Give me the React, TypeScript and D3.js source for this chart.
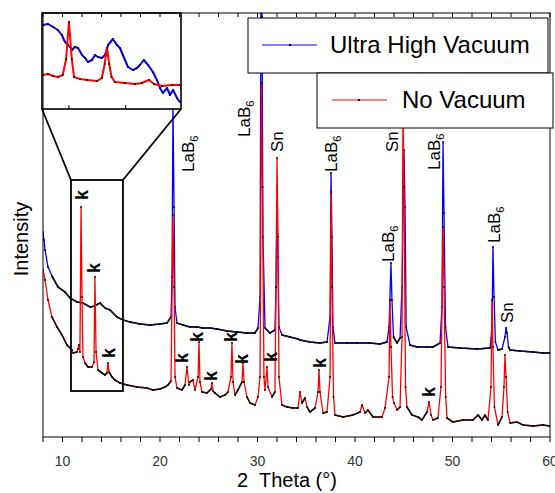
import React from "react";
import * as d3 from "d3";

// XRD patterns, 2θ (deg) vs intensity (a.u.)
const uhvPattern: [number, number][] = [
  [8.0, 205], [8.1, 197], [8.21, 187], [8.51, 170], [8.92, 161], [9.03, 159], [9.54, 150], [10.26, 145],
  [10.77, 139], [11.49, 135], [12.1, 134], [12.82, 130], [13.33, 131], [13.64, 133], [13.85, 134], [14.36, 129],
  [14.87, 127], [15.59, 120], [16.21, 117], [16.92, 115], [17.95, 113], [18.97, 112], [20.0, 113], [20.72, 114],
  [21.13, 120], [21.23, 160], [21.33, 332], [21.44, 230], [21.54, 130], [21.74, 114], [22.36, 112], [23.08, 110],
  [23.79, 110], [24.41, 109], [25.13, 109], [25.85, 108], [26.87, 106], [27.9, 105], [28.92, 104], [29.74, 104],
  [30.05, 109], [30.26, 140], [30.36, 470], [30.46, 420], [30.56, 200], [30.77, 109], [31.28, 104], [31.79, 107],
  [31.9, 150], [32.0, 230], [32.1, 180], [32.2, 110], [32.51, 102], [33.33, 100], [34.15, 98], [34.36, 97],
  [35.38, 95], [36.41, 94], [37.13, 95], [37.44, 120], [37.54, 264], [37.64, 200], [37.74, 110], [37.95, 94],
  [39.18, 94], [40.21, 94], [41.54, 94], [42.56, 93], [43.28, 95], [43.49, 110], [43.69, 174], [43.79, 137],
  [43.95, 100], [44.31, 94], [44.62, 99], [44.82, 150], [45.03, 287], [45.13, 230], [45.25, 110], [45.64, 92],
  [46.36, 90], [47.38, 90], [48.0, 90], [48.72, 94], [48.92, 130], [49.03, 295], [49.13, 224], [49.28, 110],
  [49.54, 90], [50.77, 89], [52.51, 88], [53.85, 89], [54.05, 110], [54.15, 190], [54.26, 140], [54.4, 95],
  [54.67, 87], [55.08, 88], [55.38, 100], [55.49, 109], [55.59, 104], [55.75, 90], [55.9, 87], [56.92, 86],
  [58.26, 85], [59.28, 84], [60.0, 84],
];

const noVacPattern: [number, number][] = [
  [8.0, 167], [8.21, 157], [8.51, 137], [8.92, 120], [9.44, 110], [9.95, 102], [10.46, 92], [10.97, 87],
  [11.08, 84], [11.49, 85], [11.59, 88], [11.69, 92], [11.79, 85], [11.9, 230], [12.0, 140], [12.1, 80],
  [12.31, 74], [12.62, 70], [13.03, 70], [13.23, 75], [13.33, 160], [13.44, 85], [13.64, 67], [14.05, 64],
  [14.36, 62], [14.56, 64], [14.67, 74], [14.77, 65], [15.08, 60], [15.38, 57], [15.9, 54], [16.62, 52],
  [17.64, 50], [18.67, 49], [19.28, 47], [20.0, 48], [20.51, 50], [20.82, 52], [21.13, 56], [21.33, 222],
  [21.44, 150], [21.54, 60], [21.74, 49], [22.26, 47], [22.56, 52], [22.77, 70], [22.97, 52], [23.08, 55],
  [23.38, 57], [23.59, 47], [23.9, 60], [24.0, 95], [24.1, 55], [24.31, 45], [24.82, 44], [25.23, 48],
  [25.33, 54], [25.44, 46], [25.64, 44], [26.15, 40], [26.67, 42], [26.97, 45], [27.28, 60], [27.38, 94],
  [27.49, 55], [27.69, 42], [28.0, 47], [28.41, 55], [28.51, 74], [28.62, 55], [28.92, 40], [29.23, 34],
  [29.74, 32], [30.05, 40], [30.26, 60], [30.41, 354], [30.51, 250], [30.66, 60], [30.77, 47], [30.97, 70],
  [31.08, 50], [31.49, 40], [31.79, 45], [31.9, 150], [32.0, 279], [32.1, 200], [32.2, 60], [32.51, 32],
  [33.03, 30], [33.64, 29], [34.15, 29], [34.36, 45], [34.56, 34], [34.87, 39], [35.08, 30], [35.38, 25],
  [35.9, 29], [36.21, 45], [36.31, 67], [36.41, 45], [36.72, 24], [37.13, 25], [37.44, 60], [37.54, 245],
  [37.64, 150], [37.8, 40], [37.95, 22], [38.77, 20], [39.79, 22], [40.52, 25], [40.72, 32], [41.03, 24],
  [41.33, 27], [41.85, 20], [42.77, 20], [43.08, 29], [43.49, 60], [43.59, 137], [43.69, 90], [43.85, 40],
  [44.0, 34], [44.31, 27], [44.62, 30], [44.82, 100], [44.92, 327], [45.03, 250], [45.18, 50], [45.33, 30],
  [45.85, 22], [46.46, 20], [46.87, 17], [47.38, 25], [47.59, 35], [47.8, 22], [48.0, 17], [48.51, 19],
  [48.82, 50], [49.03, 210], [49.13, 150], [49.3, 40], [49.44, 19], [50.05, 15], [51.08, 17], [52.1, 17],
  [52.62, 22], [53.03, 17], [53.33, 22], [53.64, 17], [53.95, 50], [54.05, 137], [54.15, 90], [54.3, 30],
  [54.67, 12], [55.08, 20], [55.28, 50], [55.38, 82], [55.49, 60], [55.65, 25], [55.9, 14], [56.62, 15],
  [57.23, 12], [58.26, 11], [59.28, 12], [60.0, 11],
];

// inset: magnified 11–16° region
const insetUhv: [number, number][] = [
  [11.09, 84], [11.26, 85], [11.44, 82], [11.61, 79], [11.75, 74], [11.86, 67], [11.97, 64], [12.11, 59],
  [12.21, 62], [12.32, 61], [12.46, 54], [12.57, 51], [12.67, 47], [12.81, 49], [12.92, 54], [13.02, 52],
  [13.16, 51], [13.27, 54], [13.38, 64], [13.55, 70], [13.69, 64], [13.8, 61], [13.9, 54], [14.08, 42],
  [14.26, 39], [14.4, 41], [14.5, 44], [14.64, 49], [14.79, 44], [14.96, 37], [15.1, 29], [15.21, 21],
  [15.31, 16], [15.46, 21], [15.56, 14], [15.67, 19], [15.81, 11], [15.91, 7],
];

const insetNoVac: [number, number][] = [
  [11.09, 34], [11.26, 35], [11.44, 33], [11.61, 32], [11.78, 34], [11.9, 50], [12.0, 87], [12.1, 50],
  [12.18, 32], [12.39, 30], [12.64, 29], [12.99, 28], [13.16, 31], [13.26, 45], [13.34, 61], [13.42, 45],
  [13.5, 32], [13.62, 27], [13.97, 26], [14.33, 25], [14.57, 26], [14.82, 29], [15.0, 25], [15.28, 23],
  [15.63, 24], [15.91, 24],
];

const phaseLabels = [
  { name: "LaB", sub: "6", theta: 23.49, counts: 265 },
  { name: "LaB", sub: "6", theta: 29.23, counts: 300 },
  { name: "Sn", sub: "", theta: 32.62, counts: 285 },
  { name: "LaB", sub: "6", theta: 38.15, counts: 265 },
  { name: "LaB", sub: "6", theta: 44.0, counts: 175 },
  { name: "Sn", sub: "", theta: 44.41, counts: 285 },
  { name: "LaB", sub: "6", theta: 48.72, counts: 267 },
  { name: "LaB", sub: "6", theta: 54.87, counts: 194 },
  { name: "Sn", sub: "", theta: 56.2, counts: 114 },
];

const kTheta = [12.62, 13.85, 15.38, 22.87, 24.41, 25.85, 27.9, 29.03, 32.0, 37.03, 48.2];
const kCounts = [242, 169, 84, 79, 100, 61, 100, 78, 80, 74, 45];

const xTickLabels = [10, 20, 30, 40, 50, 60];
const zoomTheta = [10.87, 16.2];
const zoomCounts = [46, 257];

const BLUE = "#0000ff";
const RED = "#ff0000";
const FONT = "'Liberation Sans', Arial, Helvetica, sans-serif";

const x = d3.scaleLinear().domain([8, 60]).range([43, 550]);
const y = d3.scaleLinear().domain([0, 424]).range([437, 13]);

const ix = d3.scaleLinear().domain([11.05, 15.95]).range([42, 181]);
const iy = d3.scaleLinear().domain([0, 96]).range([109, 13]);

// black where the trace is flat (dense symbols in the original), colour on the peaks
function flatPath(data: [number, number][], sx: any, sy: any) {
  let d = "";
  for (let i = 1; i < data.length; i++) {
    const x0 = sx(data[i - 1][0]), y0 = sy(data[i - 1][1]);
    const x1 = sx(data[i][0]), y1 = sy(data[i][1]);
    if (Math.abs(y1 - y0) <= 2.2 * Math.abs(x1 - x0)) d += `M${x0},${y0}L${x1},${y1}`;
  }
  return d;
}

function Trace({ data, color, sx, sy, width, flat }: any) {
  const line = d3.line<[number, number]>().x((d) => sx(d[0])).y((d) => sy(d[1]));
  return (
    <g>
      <path d={line(data) || ""} fill="none" stroke={color} strokeWidth={width} strokeLinejoin="round" />
      {flat && <path d={flatPath(data, sx, sy)} fill="none" stroke="#111" strokeWidth={1.6} />}
      {data.map((d: [number, number], i: number) => (
        <rect key={i} x={sx(d[0]) - 0.8} y={sy(d[1]) - 0.8} width={1.6} height={1.6} fill="#000" />
      ))}
    </g>
  );
}

export default function App() {
  const ticks = d3.range(8, 61, 2);
  return (
    <svg width={555} height={493} style={{ position: "absolute", left: 0, top: 0, background: "#fff" }} fontFamily={FONT}>
      <defs>
        <clipPath id="plot">
          <rect x={43} y={13} width={507} height={424} />
        </clipPath>
      </defs>
      <rect width={555} height={493} fill="#fff" />

      <g clipPath="url(#plot)">
        <Trace data={uhvPattern} color={BLUE} sx={x} sy={y} width={1.3} flat />
        <Trace data={noVacPattern} color={RED} sx={x} sy={y} width={1.3} flat />
      </g>

      {/* phase labels */}
      {phaseLabels.map((l, i) => (
        <text key={i} transform={`translate(${x(l.theta)},${y(l.counts)}) rotate(-90)`} fontSize={17} fill="#000">
          {l.name}
          {l.sub && <tspan fontSize={11} dy={4}>{l.sub}</tspan>}
        </text>
      ))}
      {kTheta.map((t, i) => (
        <text key={i} transform={`translate(${x(t)},${y(kCounts[i])}) rotate(-90)`} fontSize={18}
          fontWeight="bold" textAnchor="middle" fill="#000">k</text>
      ))}

      {/* zoom box and connectors */}
      <rect x={x(zoomTheta[0])} y={y(zoomCounts[1])} width={x(zoomTheta[1]) - x(zoomTheta[0])}
        height={y(zoomCounts[0]) - y(zoomCounts[1])} fill="none" stroke="#000" strokeWidth={1.8} />
      <line x1={x(zoomTheta[0])} y1={y(zoomCounts[1])} x2={ix.range()[0]} y2={iy.range()[0]} stroke="#000" strokeWidth={1.8} />
      <line x1={x(zoomTheta[1])} y1={y(zoomCounts[1])} x2={ix.range()[1]} y2={iy.range()[0]} stroke="#000" strokeWidth={1.8} />

      {/* inset */}
      <rect x={42} y={13} width={139} height={96} fill="#fff" />
      <Trace data={insetUhv} color={BLUE} sx={ix} sy={iy} width={2} flat={false} />
      <Trace data={insetNoVac} color={RED} sx={ix} sy={iy} width={2} flat={false} />
      <rect x={42} y={13} width={139} height={96} fill="none" stroke="#000" strokeWidth={1.6} />
      {[12, 14].map((t) => (
        <line key={t} x1={ix(t)} x2={ix(t)} y1={109} y2={105} stroke="#000" />
      ))}

      {/* frame and axes */}
      <rect x={43} y={13} width={507} height={424} fill="none" stroke="#000" strokeWidth={1} />
      {ticks.map((t) => (
        <g key={t}>
          <line x1={x(t)} x2={x(t)} y1={437} y2={442} stroke="#000" />
          <line x1={x(t)} x2={x(t)} y1={13} y2={17} stroke="#000" />
        </g>
      ))}
      {xTickLabels.map((t) => (
        <text key={t} x={x(t)} y={466} fontSize={14} textAnchor="middle" fill="#333">{t}</text>
      ))}
      <text x={287} y={487} fontSize={20} textAnchor="middle" fill="#000" style={{ whiteSpace: "pre" }}>2  Theta (°)</text>
      <text transform="translate(28,239) rotate(-90)" fontSize={20} textAnchor="middle" fill="#000">Intensity</text>

      {/* legend */}
      <rect x={248} y={18} width={300} height={55} fill="#fff" stroke="#000" strokeWidth={1} />
      <line x1={262} x2={317} y1={45} y2={45} stroke={BLUE} strokeWidth={1.2} />
      <rect x={289} y={44} width={2} height={2} fill="#000" />
      <text x={330} y={53} fontSize={24} fill="#000">Ultra High Vacuum</text>
      <rect x={317} y={73} width={236} height={55} fill="#fff" stroke="#000" strokeWidth={1} />
      <line x1={332} x2={387} y1={100} y2={100} stroke="#ff5555" strokeWidth={1.6} />
      <rect x={358} y={99} width={2} height={2} fill="#000" />
      <text x={402} y={108} fontSize={24} fill="#000">No Vacuum</text>
    </svg>
  );
}
